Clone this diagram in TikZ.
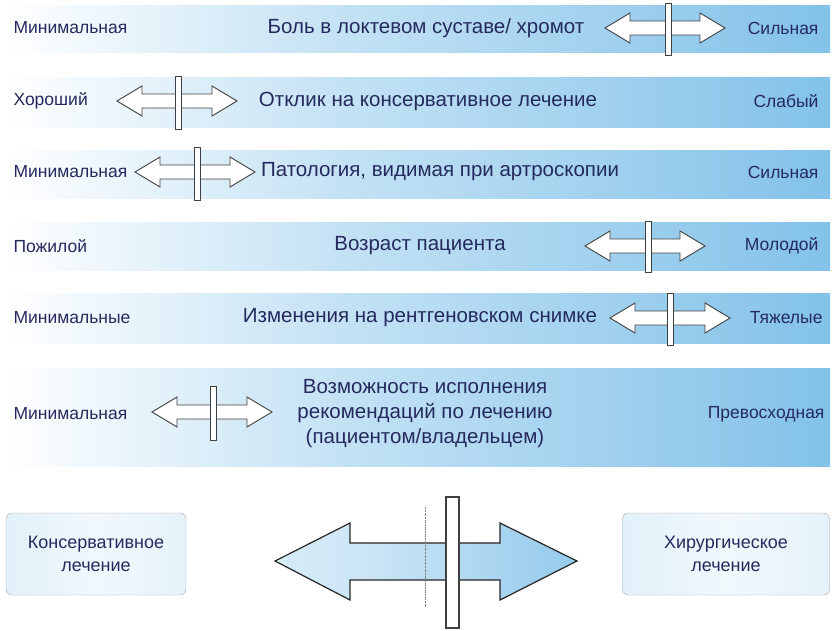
\documentclass[tikz,border=0pt]{standalone}
\usepackage{fontspec}
\setmainfont{Liberation Sans}
\usetikzlibrary{positioning}
\definecolor{barblue}{HTML}{6DB7E5}
\definecolor{navy}{HTML}{252A5E}
\pgfdeclarehorizontalshading{barshade}{100bp}{color(0bp)=(white); color(25bp)=(white); color(45bp)=(barblue!40); color(75bp)=(barblue!85); color(100bp)=(barblue)}
\pgfdeclarehorizontalshading{arrowshade}{100bp}{color(0bp)=(barblue!15); color(40bp)=(barblue!35); color(100bp)=(barblue)}
\pgfdeclarehorizontalshading{boxshade}{100bp}{color(0bp)=(barblue!30); color(50bp)=(barblue!10); color(100bp)=(barblue!25)}
\begin{document}
\begin{tikzpicture}[x=1pt,y=-1pt,
    bar/.style={shading=barshade, draw=none},
    lbl/.style={text=navy, font=\fontsize{17.5}{20}\selectfont},
    ttl/.style={text=navy, font=\fontsize{20.5}{25}\selectfont, align=center},
    slider/.style={fill=white, draw=black!75, line width=0.9pt},
    dblarrow/.pic={
      \draw[fill=white, draw=black!75, line width=0.9pt]
        (-60,0) -- (-35,-15) -- (-35,-7) -- (35,-7) -- (35,-15) -- (60,0)
        -- (35,15) -- (35,7) -- (-35,7) -- (-35,15) -- cycle;
    },
  ]
  \useasboundingbox (0,0) rectangle (834,630);
  % Bars
  \path[bar] (5,5) rectangle (830,52);
  \path[bar] (5,77) rectangle (830,127);
  \path[bar] (5,150) rectangle (830,198);
  \path[bar] (5,222) rectangle (830,270);
  \path[bar] (5,293) rectangle (830,343);
  \path[bar] (5,368) rectangle (830,466);
  % Texts
  \node[lbl, anchor=west] (l1) at (10,28) {Минимальная};
  \node[ttl] (t1) at (426,28) {Боль в локтевом суставе/ хромот};
  \node[lbl, anchor=east] (r1) at (822,28) {Сильная};
  \node[lbl, anchor=west] (l2) at (10,101) {Хороший};
  \node[ttl] (t2) at (428,101) {Отклик на консервативное лечение};
  \node[lbl, anchor=east] (r2) at (822,101) {Слабый};
  \node[lbl, anchor=west] (l3) at (10,172) {Минимальная};
  \node[ttl] (t3) at (440,172) {Патология, видимая при артроскопии};
  \node[lbl, anchor=east] (r3) at (822,172) {Сильная};
  \node[lbl, anchor=west] (l4) at (10,246) {Пожилой};
  \node[ttl] (t4) at (420,246) {Возраст пациента};
  \node[lbl, anchor=east] (r4) at (822,246) {Молодой};
  \node[lbl, anchor=west] (l5) at (10,318) {Минимальные};
  \node[ttl] (t5) at (420,318) {Изменения на рентгеновском снимке};
  \node[lbl, anchor=east] (r5) at (826,318) {Тяжелые};
  \node[lbl, anchor=west] (l6) at (10,414) {Минимальная};
  \node[ttl] (t6) at (425,414) {Возможность исполнения\\рекомендаций по лечению\\(пациентом/владельцем)};
  \node[lbl, anchor=east] (r6) at (828,414) {Превосходная};
  % Sliders
  \pic at (665,28) {dblarrow};
  \draw[slider] (665,3) rectangle (671,55);
  \pic at (177,101) {dblarrow};
  \draw[slider] (175,76) rectangle (181,129);
  \pic at (195,172) {dblarrow};
  \draw[slider] (194,147) rectangle (200,200);
  \pic at (645,246) {dblarrow};
  \draw[slider] (645,221) rectangle (651,272);
  \pic at (670,318) {dblarrow};
  \draw[slider] (667,293) rectangle (673,345);
  \pic at (212,412) {dblarrow};
  \draw[slider] (210,386) rectangle (216,440);
  % Bottom
  \node[draw=black!35, rounded corners=6pt, shading=boxshade, minimum width=180pt, minimum height=82pt, align=center, text=navy, font=\fontsize{18}{23}\selectfont] (cons) at (96,554) {Консервативное\\лечение};
  \node[draw=black!35, rounded corners=6pt, shading=boxshade, minimum width=207pt, minimum height=82pt, align=center, text=navy, font=\fontsize{18}{23}\selectfont] (surg) at (726,554) {Хирургическое\\лечение};
  \draw[shading=arrowshade, draw=black!85, line width=1.2pt]
    (275,561) -- (350,523) -- (350,543) -- (500,543) -- (500,523) -- (577,561)
    -- (500,600) -- (500,580) -- (350,580) -- (350,600) -- cycle;
  \draw[black!50, densely dotted] (425,507) -- (425,607);
  \draw[slider, line width=1.1pt] (446,497) rectangle (459,628);
\end{tikzpicture}
\end{document}
